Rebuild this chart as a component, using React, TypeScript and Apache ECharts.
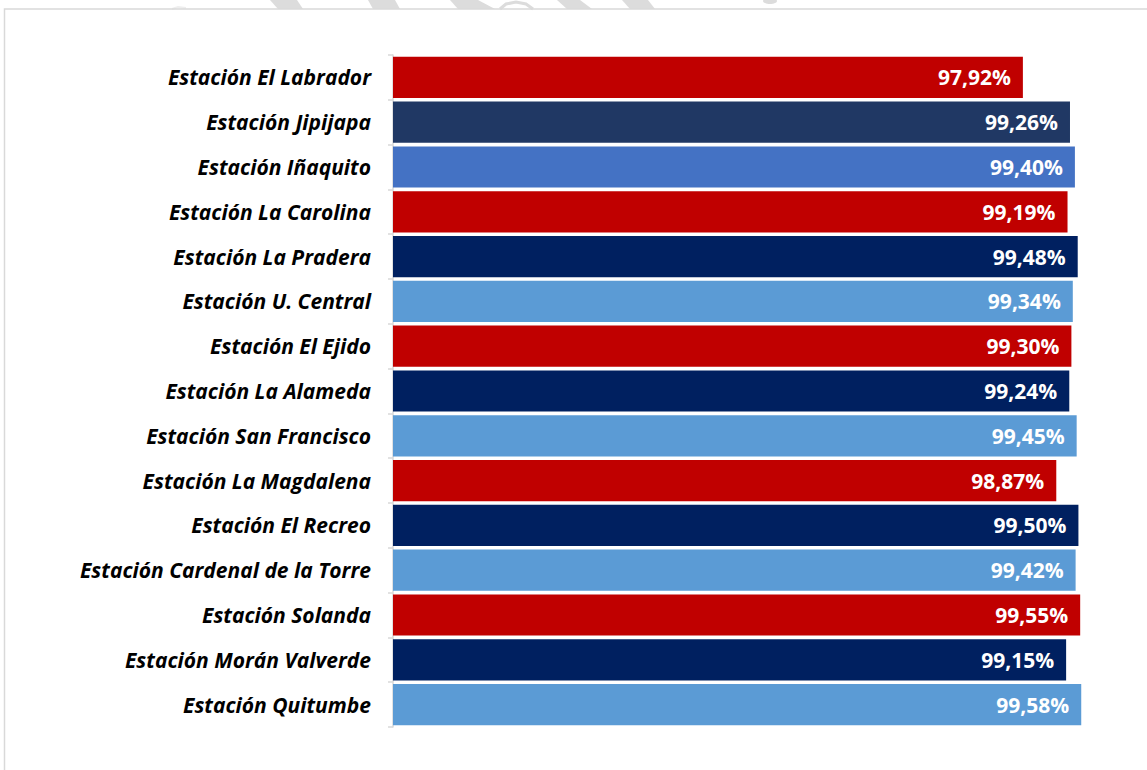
import React, { useEffect, useRef } from "react";
import * as echarts from "echarts";

const categories = [
  "Estación El Labrador",
  "Estación Jipijapa",
  "Estación Iñaquito",
  "Estación La Carolina",
  "Estación La Pradera",
  "Estación U. Central",
  "Estación El Ejido",
  "Estación La Alameda",
  "Estación San Francisco",
  "Estación La Magdalena",
  "Estación El Recreo",
  "Estación Cardenal de la Torre",
  "Estación Solanda",
  "Estación Morán Valverde",
  "Estación Quitumbe",
];

const values = [97.92, 99.26, 99.4, 99.19, 99.48, 99.34, 99.3, 99.24, 99.45, 98.87, 99.5, 99.42, 99.55, 99.15, 99.58];

const barColors = [
  "#C00000", "#203864", "#4472C4", "#C00000", "#002060",
  "#5B9BD5", "#C00000", "#002060", "#5B9BD5", "#C00000",
  "#002060", "#5B9BD5", "#C00000", "#002060", "#5B9BD5",
];

const wm = "#DCDCDC";

export default function App() {
  const ref = useRef<HTMLDivElement>(null);
  useEffect(() => {
    if (!ref.current) return;
    const chart = echarts.init(ref.current, null, { renderer: "svg" });
    chart.setOption({
      animation: false,
      backgroundColor: "#ffffff",
      graphic: [
        { type: "polygon", shape: { points: [[270, 0], [297, 0], [303, 9], [278, 9]] }, style: { fill: wm } },
        { type: "polygon", shape: { points: [[368, 0], [395, 0], [400, 9], [373, 9]] }, style: { fill: wm } },
        { type: "polygon", shape: { points: [[450, 0], [478, 0], [495, 9], [458, 9]] }, style: { fill: wm } },
        { type: "polyline", shape: { points: [[500, 9], [506, 4], [516, 2], [526, 4], [533, 9]] }, style: { stroke: wm, lineWidth: 3, fill: "none" } },
        { type: "polygon", shape: { points: [[557, 0], [580, 0], [592, 9], [567, 9]] }, style: { fill: wm } },
        { type: "polygon", shape: { points: [[622, 0], [648, 0], [655, 9], [630, 9]] }, style: { fill: wm } },
        { type: "ellipse", shape: { cx: 770, cy: 1, rx: 7, ry: 3 }, style: { fill: wm } },
        { type: "polyline", shape: { points: [[172, 9], [178, 7], [186, 8]] }, style: { stroke: "#EEEEEE", lineWidth: 2, fill: "none" } },
        {
          type: "rect",
          shape: { x: 4.5, y: 9, width: 1160, height: 800 },
          style: { fill: "none", stroke: "#D9D9D9", lineWidth: 1.5 },
        },
      ],
      grid: { left: 393, right: 51, top: 55, bottom: 43, containLabel: false },
      xAxis: {
        type: "value",
        min: 80,
        max: 100,
        show: false,
      },
      yAxis: {
        type: "category",
        inverse: true,
        data: categories,
        axisLine: { show: true, lineStyle: { color: "#D9D9D9", width: 1.5 } },
        axisTick: { show: true, length: 5, lineStyle: { color: "#D9D9D9", width: 1.5 } },
        axisLabel: {
          color: "#000000",
          fontFamily: "Open Sans",
          fontStyle: "italic",
          fontWeight: "bold",
          fontSize: 21,
          margin: 22,
        },
      },
      series: [
        {
          type: "bar",
          data: values.map((v, i) => ({ value: v, itemStyle: { color: barColors[i] } })),
          barCategoryGap: "8%",
          label: {
            show: true,
            position: "insideRight",
            distance: 12,
            color: "#ffffff",
            fontFamily: "Open Sans",
            fontWeight: "bold",
            fontSize: 21,
            formatter: (p: any) => p.value.toFixed(2).replace(".", ",") + "%",
          },
        },
      ],
    });
    return () => chart.dispose();
  }, []);
  return (
    <div
      ref={ref}
      style={{ position: "fixed", left: 0, top: 0, width: 1147, height: 770 }}
    />
  );
}
